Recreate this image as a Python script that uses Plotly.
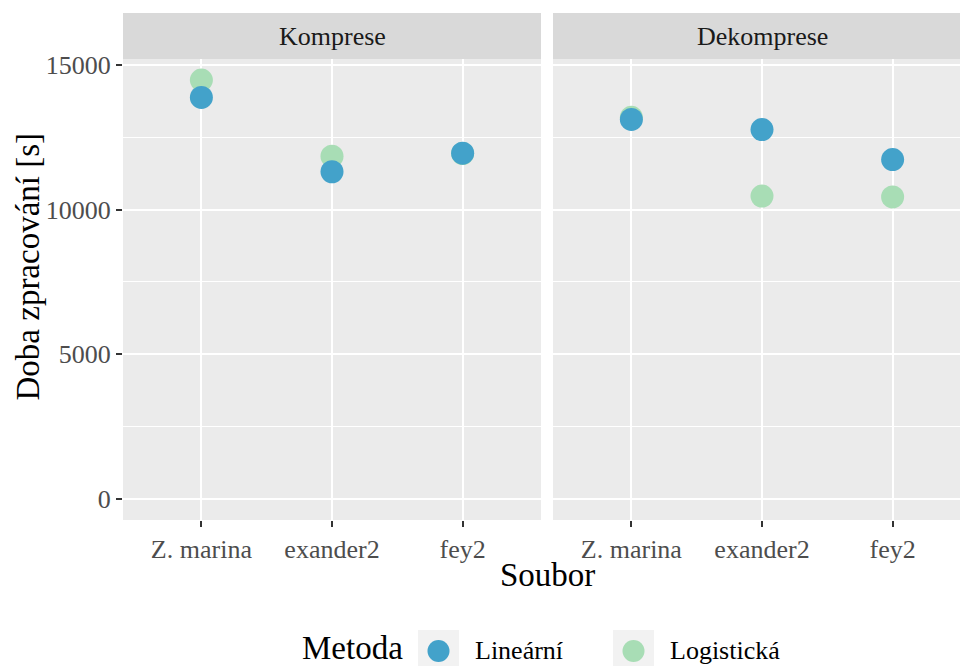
import plotly.graph_objects as go

# ---- data -------------------------------------------------------------
files = ["Z. marina", "exander2", "fey2"]
phases = ["Komprese", "Dekomprese"]
methods = ["Lineární", "Logistická"]

komprese_linearni = [13880, 11310, 11950]
komprese_logisticka = [14480, 11850, 11940]
dekomprese_linearni = [13120, 12770, 11730]
dekomprese_logisticka = [13190, 10470, 10440]

y_ticks = [0, 5000, 10000, 15000]
y_minor = [2500, 7500, 12500]

# ---- style ------------------------------------------------------------
W, H = 960, 666
FONT = "Liberation Serif"
PANEL_BG = "#EBEBEB"
STRIP_BG = "#D9D9D9"
KEY_BG = "#F2F2F2"
colors = {"Lineární": "#43A2CA", "Logistická": "#A8DDB5"}


def fx(px):
    return px / W


def fy(py):
    return 1 - py / H


values = {
    ("Komprese", "Lineární"): komprese_linearni,
    ("Komprese", "Logistická"): komprese_logisticka,
    ("Dekomprese", "Lineární"): dekomprese_linearni,
    ("Dekomprese", "Logistická"): dekomprese_logisticka,
}

fig = go.Figure()

axis_ids = {"Komprese": ("x", "y"), "Dekomprese": ("x2", "y2")}
for phase in phases:
    xa, ya = axis_ids[phase]
    # green first so the blue points sit on top
    for method in reversed(methods):
        fig.add_trace(go.Scatter(
            x=files,
            y=values[(phase, method)],
            mode="markers",
            name=method,
            legendgroup=method,
            showlegend=False,
            marker=dict(size=23, color=colors[method], line=dict(width=0)),
            xaxis=xa,
            yaxis=ya,
        ))

tickfont = dict(family=FONT, size=26, color="#4D4D4D")
xcommon = dict(
    type="category",
    categoryorder="array",
    categoryarray=files,
    ticks="outside",
    ticklen=6,
    tickwidth=2,
    tickcolor="#333333",
    tickfont=tickfont,
    showgrid=True,
    gridcolor="white",
    gridwidth=2.4,
    zeroline=False,
    showline=False,
    automargin=False,
    fixedrange=True,
)
ycommon = dict(
    range=[-726, 15207],
    tickmode="array",
    tickvals=y_ticks,
    ticktext=[str(v) for v in y_ticks],
    showgrid=True,
    gridcolor="white",
    gridwidth=2.4,
    minor=dict(tickmode="array", tickvals=y_minor, showgrid=True,
               gridcolor="white", gridwidth=1.2, ticks=""),
    zeroline=False,
    showline=False,
    automargin=False,
    fixedrange=True,
)

left_panel = (123, 541)
right_panel = (553, 971)   # right facet runs past the page edge
full_w = right_panel[1] - right_panel[0]
visible_w = W - right_panel[0]
x2_end = -0.6 + 3.2 * visible_w / full_w

fig.update_layout(
    width=W,
    height=H,
    margin=dict(l=0, r=0, t=0, b=0, pad=0, autoexpand=False),
    paper_bgcolor="white",
    plot_bgcolor=PANEL_BG,
    showlegend=False,
    font=dict(family=FONT, color="black"),
    xaxis=dict(domain=[fx(left_panel[0]), fx(left_panel[1])],
               range=[-0.6, 2.6], anchor="y", **xcommon),
    xaxis2=dict(domain=[fx(right_panel[0]), 1.0],
                range=[-0.6, x2_end], anchor="y2", **xcommon),
    yaxis=dict(domain=[fy(520), fy(59)], anchor="x",
               ticks="outside", ticklen=6, tickwidth=2, tickcolor="#333333",
               tickfont=tickfont, **ycommon),
    yaxis2=dict(domain=[fy(520), fy(59)], anchor="x2", matches="y",
                showticklabels=False, ticks="", **ycommon),
)

shapes = []
annotations = []

# facet strips
for phase, (x0, x1) in zip(phases, [left_panel, right_panel]):
    shapes.append(dict(type="rect", xref="paper", yref="paper",
                       x0=fx(x0), x1=fx(min(x1, W)), y0=fy(59), y1=fy(13),
                       fillcolor=STRIP_BG, line=dict(width=0), layer="below"))
    annotations.append(dict(text=phase, xref="paper", yref="paper",
                            x=fx((x0 + x1) / 2), y=fy(36),
                            xanchor="center", yanchor="middle", showarrow=False,
                            font=dict(family=FONT, size=26, color="#1A1A1A")))

# axis titles
annotations.append(dict(text="Soubor", xref="paper", yref="paper",
                        x=fx((left_panel[0] + right_panel[1]) / 2), y=fy(575),
                        xanchor="center", yanchor="middle", showarrow=False,
                        font=dict(family=FONT, size=33, color="black")))
annotations.append(dict(text="Doba zpracování [s]", xref="paper", yref="paper",
                        x=fx(28), y=fy(266.5), textangle=-90,
                        xanchor="center", yanchor="middle", showarrow=False,
                        font=dict(family=FONT, size=33, color="black")))

# legend
LEG_Y = 650
annotations.append(dict(text="Metoda", xref="paper", yref="paper",
                        x=fx(300), y=fy(LEG_Y - 2), xanchor="left", yanchor="middle",
                        showarrow=False,
                        font=dict(family=FONT, size=33, color="black")))
key_left = [418, 613]
for method, kx in zip(methods, key_left):
    shapes.append(dict(type="rect", xref="paper", yref="paper",
                       x0=fx(kx), x1=fx(kx + 41), y0=fy(LEG_Y + 22), y1=fy(LEG_Y - 20),
                       fillcolor=KEY_BG, line=dict(width=0), layer="above"))
    cx = kx + 20.5
    shapes.append(dict(type="circle", xref="paper", yref="paper",
                       x0=fx(cx - 11), x1=fx(cx + 11), y0=fy(LEG_Y + 12), y1=fy(LEG_Y - 10),
                       fillcolor=colors[method], line=dict(width=0), layer="above"))
    annotations.append(dict(text=method, xref="paper", yref="paper",
                            x=fx(kx + 55), y=fy(LEG_Y), xanchor="left", yanchor="middle",
                            showarrow=False,
                            font=dict(family=FONT, size=26, color="black")))

fig.update_layout(shapes=shapes, annotations=annotations)

fig.write_html("out.html")
